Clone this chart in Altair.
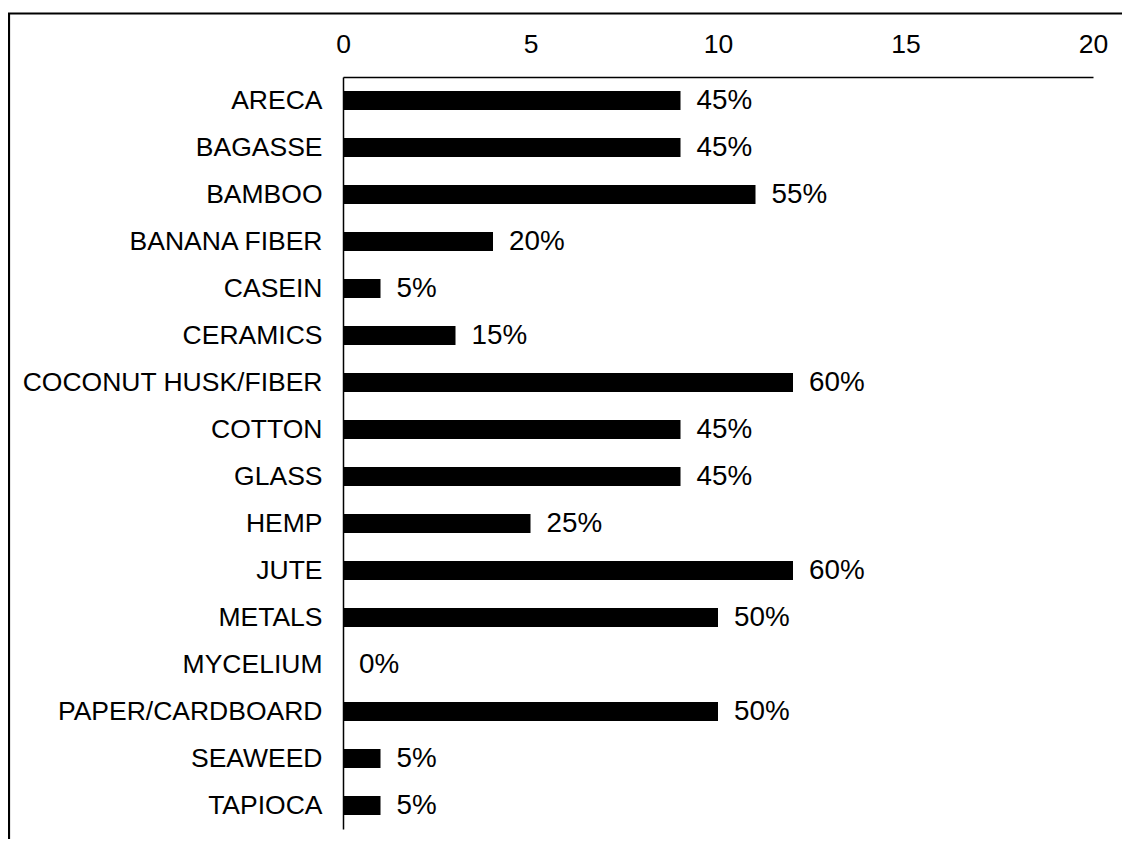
import altair as alt
import pandas as pd

categories = ["ARECA", "BAGASSE", "BAMBOO", "BANANA FIBER", "CASEIN", "CERAMICS",
              "COCONUT HUSK/FIBER", "COTTON", "GLASS", "HEMP", "JUTE", "METALS",
              "MYCELIUM", "PAPER/CARDBOARD", "SEAWEED", "TAPIOCA"]
counts = [9, 9, 11, 4, 1, 3, 12, 9, 9, 5, 12, 10, 0, 10, 1, 1]
total = 20
x_ticks = [0, 5, 10, 15, 20]

df = pd.DataFrame({"material": categories, "count": counts})
df["share"] = df["count"] / total

FONT = "Liberation Sans"

y_enc = alt.Y("material:N", sort=categories, title=None,
              scale=alt.Scale(paddingInner=0.596, paddingOuter=0.298),
              axis=alt.Axis(ticks=False, domainColor="black", domainWidth=1.5,
                            labelFont=FONT, labelFontSize=26.5, labelColor="black",
                            labelPadding=21, labelLimit=400))
x_enc = alt.X("count:Q", title=None,
              scale=alt.Scale(domain=[0, 20], nice=False),
              axis=alt.Axis(orient="top", values=x_ticks, ticks=False, grid=False,
                            domainColor="black", domainWidth=1.5,
                            labelFont=FONT, labelFontSize=26.5, labelColor="black",
                            labelPadding=18.5, labelFlush=False))

bars = alt.Chart(df).mark_bar(color="black").encode(x=x_enc, y=y_enc)

labels = alt.Chart(df).mark_text(align="left", baseline="middle", dx=16,
                                 font=FONT, fontSize=27.8, color="black").encode(
    x=alt.X("count:Q"), y=alt.Y("material:N", sort=categories),
    text=alt.Text("share:Q", format=".0%"))

frame = alt.Chart(pd.DataFrame({"a": [0]})).mark_rect(
    filled=False, stroke="black", strokeWidth=2.2).encode(
    x=alt.value(-334), x2=alt.value(820), y=alt.value(-63.5), y2=alt.value(820))

chart = alt.layer(frame, bars, labels).properties(
    width=750, height=752,
    padding={"left": 335, "top": 69, "right": 29, "bottom": 10},
    autosize=alt.AutoSizeParams(type="none"),
).configure_view(stroke=None)

chart.save("out.html", embed_options={"renderer": "svg", "actions": False})
